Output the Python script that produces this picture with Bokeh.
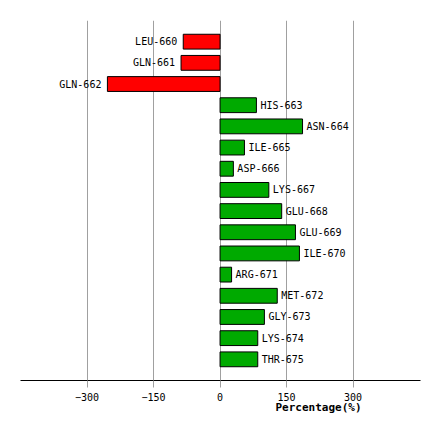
from bokeh.plotting import figure
from bokeh.models import Range1d, ColumnDataSource, FixedTicker, Title
from bokeh.core.properties import value
from bokeh.embed import file_html
from bokeh.resources import INLINE

residues = ["LEU-660", "GLN-661", "GLN-662", "HIS-663", "ASN-664", "ILE-665",
            "ASP-666", "LYS-667", "GLU-668", "GLU-669", "ILE-670", "ARG-671",
            "MET-672", "GLY-673", "LYS-674", "THR-675"]
percent = [-83, -88, -254, 82, 186, 55, 30, 110, 139, 170, 179, 26, 129, 100, 85, 85]
ticks = [-300, -150, 0, 150, 300]

ypos = [i + 1 for i in range(len(residues))]
colors = ["#ff0000" if v < 0 else "#00aa00" for v in percent]
neg = [v < 0 for v in percent]

bars = ColumnDataSource(dict(y=ypos, v=percent, c=colors))
src_neg = ColumnDataSource(dict(
    y=[y for y, n in zip(ypos, neg) if n],
    v=[v for v, n in zip(percent, neg) if n],
    t=[r for r, n in zip(residues, neg) if n]))
src_pos = ColumnDataSource(dict(
    y=[y for y, n in zip(ypos, neg) if not n],
    v=[v for v, n in zip(percent, neg) if not n],
    t=[r for r, n in zip(residues, neg) if not n]))

p = figure(width=440, height=440, output_backend="svg", toolbar_location=None,
           x_range=Range1d(-450, 452), y_range=Range1d(17, 0),
           min_border_left=20, min_border_right=20, min_border_top=20,
           min_border_bottom=60)
p.outline_line_color = None
p.background_fill_color = "white"
p.border_fill_color = "white"

p.hbar(y="y", left=0, right="v", height=0.7, fill_color="c",
       line_color="black", line_width=1, source=bars)

font = value("DejaVu Sans Mono")
p.text(x="v", y="y", text="t", source=src_neg, text_align="right",
       text_baseline="middle", x_offset=-6, text_font=font,
       text_font_size="10px", text_color="black")
p.text(x="v", y="y", text="t", source=src_pos, text_align="left",
       text_baseline="middle", x_offset=4, text_font=font,
       text_font_size="10px", text_color="black")

p.yaxis.visible = False
p.ygrid.visible = False
p.xgrid.ticker = FixedTicker(ticks=ticks)
p.xgrid.grid_line_color = "#a0a0a0"
p.xgrid.grid_line_width = 1
p.xaxis.ticker = FixedTicker(ticks=ticks)
p.xaxis.axis_line_color = "black"
p.xaxis.major_tick_line_color = "#a0a0a0"
p.xaxis.major_tick_in = 0
p.xaxis.major_tick_out = 7
p.xaxis.minor_tick_line_color = None
p.xaxis.major_label_text_font = "DejaVu Sans Mono"
p.xaxis.major_label_text_font_size = "10px"
p.xaxis.major_label_text_color = "black"
p.xaxis.major_label_standoff = 5

p.add_layout(Title(text="Percentage(%)", align="left", offset=255,
                   text_font="DejaVu Sans Mono", text_font_size="11px",
                   text_font_style="bold", standoff=-5, vertical_align="top",
                   text_color="black"),
             "below")

open("out.html", "w").write(file_html(p, INLINE))
